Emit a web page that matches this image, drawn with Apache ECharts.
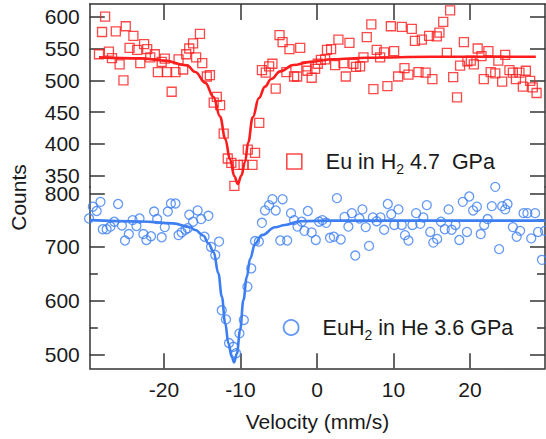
<!DOCTYPE html>
<html>
<head>
<meta charset="utf-8">
<style>
html,body{margin:0;padding:0;background:#fff;}
#chart{width:546px;height:439px;}
</style>
<script src="https://cdn.jsdelivr.net/npm/echarts@6/dist/echarts.min.js"></script>
</head>
<body>
<div id="chart"></div>
<script>
// ---- data ----
var redX = [-28.5,-28.1,-27.7,-27.2,-26.8,-26.3,-25.8,-25.3,-25.0,-24.5,-24.0,-23.5,-23.1,-22.6,-22.2,-21.8,-21.2,-20.8,-20.3,-19.9,-19.6,-19.0,-18.5,-18.1,-17.5,-17.1,-16.7,-16.2,-15.8,-15.3,-15.0,-14.4,-14.0,-13.5,-13.1,-12.67,-12.2,-11.67,-11.2,-10.8,-10.35,-9.6,-9.05,-8.44,-8.1,-7.55,-7.2,-6.7,-6.26,-5.83,-5.4,-4.9,-4.5,-4.0,-3.6,-3.0,-2.6,-2.2,-1.4,-1.25,-0.7,-0.25,0.1,0.5,1.06,1.3,1.84,2.37,2.8,3.45,3.76,4.24,4.76,5.1,5.63,6.07,6.5,7.1,7.37,7.8,8.25,8.77,9.2,9.65,10.08,10.6,11.08,11.43,11.95,12.39,12.8,13.26,13.7,14.2,14.65,15.08,15.66,16.0,16.5,16.97,17.4,17.8,18.3,18.7,19.2,19.66,20.1,20.5,21.0,21.5,21.8,22.4,22.7,23.3,23.7,24.2,24.6,25.15,25.6,26.0,26.46,26.9,27.3,27.86,28.2,28.7];
var redY = [541,576,600,545,535,577,525,500,585,551,570,548,527,557,549,536,541,513,529,534,513,482,513,533,517,541,550,558,536,573,527,506,508,465,474,461,416,377,370,334,367,367,391,367,386,433,516,512,522,526,487,571,560,513,549,506,506,551,522,515,504,518,526,532,533,548,549,524,564,527,506,559,526,521,522,536,568,588,486,548,536,544,491,585,546,506,584,519,509,581,562,513,564,512,570,502,569,575,592,543,610,505,473,523,560,530,531,525,550,538,502,546,513,511,531,498,540,516,512,502,512,490,515,499,489,480];
var redFitX = [-28.5,-23,-20,-17,-15.9,-14.6,-13.54,-12.67,-12.0,-11.36,-10.8,-10.35,-9.9,-9.4,-9.0,-8.4,-7.6,-6.8,-6.0,-4.8,-3.1,-0.9,2.1,6.5,15,28.6];
var redFitY = [536,534.5,531,523.5,513,496,474,443,408,375,349,337,350,372,402,442,472,490,502,514,524,529,533,535.5,537,537];

var blueX = [-29.8,-29.3,-28.8,-28.3,-28.0,-27.5,-27.0,-26.5,-26.0,-25.5,-25.1,-24.6,-24.1,-23.6,-23.2,-22.7,-22.3,-21.7,-21.3,-20.9,-20.3,-19.9,-19.5,-19.1,-18.5,-18.1,-17.7,-17.2,-16.9,-16.7,-16.2,-15.6,-15.15,-14.7,-14.2,-13.85,-13.3,-12.8,-12.45,-11.9,-11.5,-10.93,-10.58,-10.14,-9.57,-9.1,-8.6,-8.1,-7.6,-7.2,-6.8,-6.26,-5.83,-5.4,-4.8,-4.5,-3.9,-3.4,-3.0,-2.56,-2.0,-1.65,-1.2,-0.7,-0.16,0.27,0.7,1.2,1.7,2.2,2.6,3.1,3.6,4.1,4.55,5.0,5.54,5.93,6.37,6.8,7.3,7.8,8.3,8.77,9.25,9.7,10.1,10.65,11.08,11.5,11.95,12.47,12.95,13.5,13.9,14.35,14.8,15.2,15.7,16.2,16.7,17.2,17.6,18.1,18.6,19.05,19.6,19.9,20.4,20.9,21.4,21.85,22.3,22.85,23.3,23.8,24.2,24.6,24.9,25.6,26.1,26.55,27.0,27.5,28.0,28.5,28.9,29.4,29.8];
var blueY = [753,775,767,784,733,733,738,747,780,740,712,724,750,739,753,724,713,720,766,752,718,737,766,781,781,722,727,732,735,760,747,768,752,719,758,700,685,710,582,565,521,514,502,539,564,626,660,711,710,745,768,778,789,768,712,789,712,763,750,738,747,730,767,727,713,747,750,745,717,719,791,714,756,738,763,684,753,770,737,702,755,748,755,732,780,761,741,770,741,722,712,741,763,743,755,778,728,708,715,747,733,770,732,741,713,784,728,794,768,775,724,741,752,776,812,696,776,770,780,737,719,730,763,763,716,763,728,676,730];
var blueFitX = [-29.7,-23,-18.8,-16.6,-15.9,-14.85,-14.2,-13.5,-12.9,-12.44,-12.0,-11.58,-11.14,-10.84,-10.48,-10.05,-9.62,-9.18,-8.75,-8.1,-7.2,-5.48,-4.17,-2.2,2.1,29.8];
var blueFitY = [750,747.5,744,736.6,731.5,721,707,690,651,607,558,520,495,485,501,545,601,644,678,706,722,736.6,741,748,749,749];

var xTicks = [-20,-10,0,10,20];
var topTicks = [350,400,450,500,550,600];
var botTicks = [500,600,700,800];
var botMinor = [550,650,750];
var redName = 'Eu in H\u2082 4.7  GPa';
var blueName = 'EuH\u2082 in He 3.6 GPa';

function zip(a,b){var r=[];for(var i=0;i<a.length;i++)r.push([a[i],b[i]]);return r;}

var FONT = '"Liberation Sans", Arial, Helvetica, sans-serif';
var AX = '#333';
var RED = '#ff1c1c';
var BLUE = '#3d7ff2';

function yAx(grid, pos, min, max, ticks, labels, len, line){
  return {
    type:'value', gridIndex:grid, position:pos, min:min, max:max,
    axisLine:{show:line, onZero:false, lineStyle:{color:AX,width:1.5}},
    axisTick:{show:true, inside:true, length:len, customValues:ticks, lineStyle:{color:AX,width:1.5}},
    axisLabel:{show:!!labels, customValues:labels||ticks, fontSize:21, color:'#1a1a1a', fontFamily:FONT, margin:10},
    splitLine:{show:false}
  };
}

var chart = echarts.init(document.getElementById('chart'), null, {renderer:'svg'});
var richStyles = {
  t:{fontSize:21.5, fontFamily:FONT, color:'#1a1a1a', lineHeight:28},
  s:{fontSize:14, fontFamily:FONT, color:'#1a1a1a', lineHeight:12, verticalAlign:'bottom'}
};
function legendFmt(name){
  if(name===redName) return '{t|Eu in H}{s|2}{t| 4.7  GPa}';
  return '{t|EuH}{s|2}{t| in He 3.6 GPa}';
}
chart.setOption({
  animation:false,
  backgroundColor:'#fff',
  grid:[
    {left:89.8, top:4, width:455.2, height:183},
    {left:89.8, top:187, width:455.2, height:181.3}
  ],
  xAxis:[
    {type:'value', gridIndex:0, position:'top', min:-29.7, max:29.8,
     axisLine:{show:true, onZero:false, lineStyle:{color:AX,width:1.5}},
     axisTick:{show:true, inside:true, length:16, customValues:xTicks, lineStyle:{color:AX,width:1.5}},
     axisLabel:{show:false}, splitLine:{show:false}},
    {type:'value', gridIndex:1, position:'bottom', min:-29.7, max:29.8,
     axisLine:{show:true, onZero:false, lineStyle:{color:AX,width:1.5}},
     axisTick:{show:true, inside:true, length:15, customValues:xTicks, lineStyle:{color:AX,width:1.5}},
     axisLabel:{show:true, customValues:xTicks, fontSize:21, color:'#1a1a1a', fontFamily:FONT, margin:11},
     splitLine:{show:false},
     name:'Velocity (mm/s)', nameLocation:'middle', nameGap:43,
     nameTextStyle:{fontSize:21, color:'#1a1a1a', fontFamily:FONT}}
  ],
  yAxis:[
    yAx(0,'left',332.2,620,topTicks,topTicks,15,true),
    yAx(0,'right',332.2,620,topTicks,null,15,true),
    yAx(1,'left',473.9,811.7,botTicks,botTicks,15,true),
    yAx(1,'right',473.9,811.7,botTicks,null,15,true),
    yAx(1,'left',473.9,811.7,botMinor,null,8,false),
    yAx(1,'right',473.9,811.7,botMinor,null,8,false)
  ],
  legend:[
    {data:[{name:redName, icon:'rect', itemStyle:{color:'rgba(0,0,0,0)', borderColor:RED, borderWidth:1.6}}],
     left:286, top:150.5, padding:0, itemWidth:15, itemHeight:15, selectedMode:false,
     formatter:legendFmt, textStyle:{padding:[0,0,0,19], rich:richStyles}},
    {data:[{name:blueName, icon:'circle', itemStyle:{color:'rgba(0,0,0,0)', borderColor:BLUE, borderWidth:1.8}}],
     left:282.7, top:316.5, padding:0, itemWidth:15, itemHeight:15, selectedMode:false,
     formatter:legendFmt, textStyle:{padding:[0,0,0,19], rich:richStyles}}
  ],
  graphic:[
    {type:'text', x:18.5, y:197.5, rotation:Math.PI/2,
     style:{text:'Counts', fontSize:21, fontFamily:FONT, fill:'#1a1a1a', align:'center', verticalAlign:'middle'}}
  ],
  series:[
    {name:redName, type:'scatter', xAxisIndex:0, yAxisIndex:0, data:zip(redX,redY),
     symbol:'rect', symbolSize:9, clip:false,
     itemStyle:{color:'rgba(0,0,0,0)', borderColor:RED, borderWidth:1.3}, z:2},
    {name:'redFit', type:'line', xAxisIndex:0, yAxisIndex:0, data:zip(redFitX,redFitY),
     showSymbol:false, symbol:'none', smooth:0.4, smoothMonotone:'x',
     lineStyle:{color:RED, width:2.6}, z:3},
    {name:blueName, type:'scatter', xAxisIndex:1, yAxisIndex:2, data:zip(blueX,blueY),
     symbol:'circle', symbolSize:9, clip:false,
     itemStyle:{color:'rgba(0,0,0,0)', borderColor:BLUE, borderWidth:1.3}, z:2},
    {name:'blueFit', type:'line', xAxisIndex:1, yAxisIndex:2, data:zip(blueFitX,blueFitY),
     showSymbol:false, symbol:'none', smooth:0.4, smoothMonotone:'x',
     lineStyle:{color:BLUE, width:2.6}, z:3}
  ]
});
</script>
</body>
</html>
